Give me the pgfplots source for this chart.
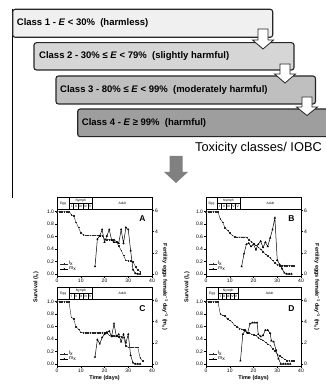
\documentclass[border=0pt]{standalone}
\usepackage{pgfplots}
\pgfplotsset{compat=1.18}
\usepackage{pgfplotstable}
\usepackage{fontspec}
\setmainfont{Liberation Sans}

% ---------------- data ----------------
\pgfplotstableread{
d l
0 1.00
1 1.00
2 1.00
3 1.00
4 1.00
5 1.00
6 0.95
7 0.93
8 0.83
9 0.75
10 0.66
11 0.63
12 0.62
13 0.62
14 0.62
15 0.62
16 0.62
17 0.62
18 0.61
19 0.61
20 0.56
21 0.55
22 0.55
23 0.55
24 0.55
25 0.52
26 0.45
27 0.38
28 0.30
29 0.22
30 0.21
31 0.21
32 0.20
33 0.12
34 0.07
35 0.04
}\lxA
\pgfplotstableread{
d m
16 0.7
17 3.3
18 3.6
19 4.2
20 3.0
21 3.6
22 4.2
23 3.2
24 3.0
25 3.0
26 2.9
27 4.2
28 2.9
29 4.4
30 4.2
31 2.2
32 0.4
33 0.05
34 0
35 0
}\mxA
\pgfplotstableread{
d l
0 1.00
1 1.00
2 1.00
3 1.00
4 1.00
5 1.00
6 0.88
7 0.83
8 0.74
9 0.70
10 0.66
11 0.62
12 0.60
13 0.59
14 0.59
15 0.59
16 0.59
17 0.59
18 0.55
19 0.52
20 0.49
21 0.46
22 0.43
23 0.40
24 0.36
25 0.32
26 0.29
27 0.26
28 0.22
29 0.18
30 0.15
31 0.14
32 0.14
33 0.14
34 0.14
35 0.14
36 0.14
37 0.14
}\lxB
\pgfplotstableread{
d m
15 0.7
16 1.9
17 2.8
18 2.9
19 2.6
20 2.8
21 2.3
22 2.8
23 3.1
24 2.5
25 3.0
26 2.6
27 3.4
28 4.2
29 5.3
30 1.3
31 0.9
32 0.5
33 0.1
34 0
35 0
36 0
}\mxB
\pgfplotstableread{
d l
0 1.00
1 1.00
2 1.00
3 1.00
4 1.00
5 1.00
6 0.75
7 0.72
8 0.60
9 0.56
10 0.51
11 0.50
12 0.50
13 0.50
14 0.50
15 0.50
16 0.50
17 0.50
18 0.50
19 0.50
20 0.50
21 0.50
22 0.46
23 0.45
24 0.45
25 0.45
26 0.44
27 0.44
28 0.43
29 0.29
30 0.27
31 0.27
32 0.27
33 0.27
34 0.27
35 0.10
36 0.05
}\lxC
\pgfplotstableread{
d m
16 0.65
17 2.3
18 1.9
19 2.5
20 2.8
21 3.0
22 3.1
23 2.6
24 3.8
25 2.6
26 2.8
27 2.1
28 2.8
29 2.0
30 2.8
31 0.8
32 0.1
33 0
34 0
35 0
}\mxC
\pgfplotstableread{
d l
0 1.00
1 1.00
2 1.00
3 1.00
4 1.00
5 1.00
6 0.80
7 0.78
8 0.77
9 0.72
10 0.70
11 0.67
12 0.62
13 0.60
14 0.57
15 0.56
16 0.55
17 0.51
18 0.50
19 0.48
20 0.47
21 0.46
22 0.42
23 0.40
24 0.38
25 0.35
26 0.32
27 0.30
28 0.25
29 0.21
30 0.16
31 0.13
32 0.11
33 0.08
34 0.06
35 0.05
36 0.05
37 0.05
}\lxD
\pgfplotstableread{
d m
14.5 0.3
15.5 2.8
16.5 3.2
17.5 2.9
18.5 3.8
19.5 3.9
20.5 3.9
21.5 3.9
22 2.8
23 2.6
24 2.7
25 3.2
26 3.2
27 2.9
27.5 2.2
28.5 2.1
29.5 1.3
30.5 0.5
31.5 0
32.5 0
33.5 0
34.5 0
35.5 0
}\mxD

% ---------------- styles ----------------
\tikzset{stagefont/.style={font=\fontsize{3.3}{3.5}\selectfont, inner sep=0pt}}
\pgfplotsset{
  lx/.style={black!85, line width=0.4pt, mark=square*, mark size=0.35pt, mark options={solid}},
  mx/.style={black, line width=0.5pt, mark=triangle*, mark size=0.8pt, mark options={solid}},
  common/.style={
    scale only axis, width=95pt, height=67pt,
    xmin=0, xmax=40,
    tick align=outside, major tick length=2pt,
    every tick/.style={black, line width=0.4pt},
    axis line style={line width=0.5pt},
    tick label style={font=\fontsize{5}{6}\selectfont, inner sep=0.8pt},
    /pgf/number format/assume math mode=true,
    clip=false,
  },
  leftax/.style={common,
    ymin=-0.03, ymax=1.04,
    xtick={0,10,20,30,40}, ytick={0,0.2,0.4,0.6,0.8,1.0},
    xtick pos=bottom, ytick pos=left,
    yticklabel style={/pgf/number format/.cd, fixed, fixed zerofill, precision=1},
  },
  rightax/.style={common,
    ymin=-0.2, ymax=6.15,
    axis x line=none, axis y line*=right,
    ytick={0,2,4,6},
    legend style={draw=none, fill=none, at={(0.03,0.06)}, anchor=south west,
      font=\fontsize{5}{5.5}\selectfont, inner sep=0pt, row sep=-0.5pt,
      nodes={inner sep=0.6pt}},
    legend cell align=left,
    legend image code/.code={\draw[mark repeat=2,mark phase=2,##1] plot coordinates {(0cm,0cm) (0.14cm,0cm) (0.28cm,0cm)};},
  },
}

\newcommand{\stages}[2]{%
  \draw[line width=0.4pt] (rel axis cs:0,1) rectangle (rel axis cs:1,1.17);
  \draw[line width=0.4pt] (rel axis cs:{#1/40},1) -- (rel axis cs:{#1/40},1.17);
  \draw[line width=0.4pt] (rel axis cs:{#2/40},1) -- (rel axis cs:{#2/40},1.17);
  \draw[line width=0.3pt] (rel axis cs:{#1/40},1.085) -- (rel axis cs:{#2/40},1.085);
  \draw[line width=0.3pt] (rel axis cs:{(#1+0.2*(#2-#1))/40},1) -- (rel axis cs:{(#1+0.2*(#2-#1))/40},1.085);
  \draw[line width=0.3pt] (rel axis cs:{(#1+0.4*(#2-#1))/40},1) -- (rel axis cs:{(#1+0.4*(#2-#1))/40},1.085);
  \draw[line width=0.3pt] (rel axis cs:{(#1+0.6*(#2-#1))/40},1) -- (rel axis cs:{(#1+0.6*(#2-#1))/40},1.085);
  \draw[line width=0.3pt] (rel axis cs:{(#1+0.8*(#2-#1))/40},1) -- (rel axis cs:{(#1+0.8*(#2-#1))/40},1.085);
  \node[stagefont] at (rel axis cs:{#1/80},1.085) {Egg};
  \node[stagefont] at (rel axis cs:{(#1+#2)/80},1.128) {Nymph};
  \node[stagefont] at (rel axis cs:{(#1+0.1*(#2-#1))/40},1.043) {I};
  \node[stagefont] at (rel axis cs:{(#1+0.3*(#2-#1))/40},1.043) {II};
  \node[stagefont] at (rel axis cs:{(#1+0.5*(#2-#1))/40},1.043) {III};
  \node[stagefont] at (rel axis cs:{(#1+0.7*(#2-#1))/40},1.043) {IV};
  \node[stagefont] at (rel axis cs:{(#1+0.9*(#2-#1))/40},1.043) {V};
  \node[stagefont] at (rel axis cs:{(#2+40)/80},1.085) {Adult};
}

\newcommand{\panelletter}[1]{\node[font=\bfseries\fontsize{8.5}{9}\selectfont] at (rel axis cs:0.9,0.86) {#1};}

\begin{document}
\begin{tikzpicture}[x=1pt,y=1pt]
\useasboundingbox (0,0) rectangle (326,385);

% ---------------- top scheme ----------------
\draw[line width=0.8pt] (12,375.5) -- (12,187);
\tikzset{classbox/.style={rounded corners=2.5pt, line width=1.1pt, draw=black!85}}
\draw[classbox, fill=black!6]  (12.7,375.7) rectangle (272.7,347.7);
\draw[classbox, fill=black!16] (34,342.3) rectangle (294,315);
\draw[classbox, fill=black!25] (56,309) rectangle (315.5,281);
\draw[classbox, fill=black!38] (77.7,276) rectangle (345,248.3);
\tikzset{boxtext/.style={anchor=west, inner sep=0pt, font=\bfseries\fontsize{9.5}{10}\selectfont}}
\node[boxtext] at (16.7,362) {Class 1 - \textit{E} < 30\%~ (harmless)};
\node[boxtext] at (39,328.7) {Class 2 - 30\% ≤ \textit{E} < 79\%~ (slightly harmful)};
\node[boxtext] at (60,295) {Class 3 - 80\% ≤ \textit{E} < 99\%~ (moderately harmful)};
\node[boxtext] at (81.7,262.2) {Class 4 - \textit{E} ≥ 99\%~ (harmful)};
% small white arrows
\tikzset{warrow/.style={fill=white, draw=black!85, line width=0.8pt, line join=miter}}
\draw[warrow] (258,356) -- (268,356) -- (268,345) -- (273.5,345) -- (263,336) -- (252.5,345) -- (258,345) -- cycle;
\draw[warrow] (280,321) -- (290,321) -- (290,311) -- (295.5,311) -- (285,302) -- (274.5,311) -- (280,311) -- cycle;
\draw[warrow] (302,288) -- (312,288) -- (312,278) -- (317.5,278) -- (307,269.5) -- (296.5,278) -- (302,278) -- cycle;
\node[anchor=west, inner sep=0pt, font=\fontsize{12.8}{13}\selectfont] at (195,237) {Toxicity classes/ IOBC};
% big grey arrow
\fill[black!50] (169.5,229) -- (182.5,229) -- (182.5,213) -- (188,213) -- (176,202) -- (164,213) -- (169.5,213) -- cycle;

% ---------------- axis labels shared by rows ----------------
\tikzset{axlab/.style={inner sep=0pt, font=\bfseries\fontsize{5.5}{6}\selectfont}}
\node[axlab, rotate=90] at (36,98) {Survival (l\textsubscript{x})};
\node[axlab, rotate=-90] at (165,98) {Fertility eggs female\textsuperscript{−1} day\textsuperscript{−1} (m\textsubscript{x})};
\node[axlab, rotate=90] at (187,98) {Survival (l\textsubscript{x})};
\node[axlab, rotate=-90] at (317,98) {Fertility eggs female\textsuperscript{−1} day\textsuperscript{−1} (m\textsubscript{x})};

% ---------------- panel A ----------------
\begin{axis}[leftax, at={(57pt,109pt)}, anchor=south west]
\addplot[lx] table[x=d, y=l] {\lxA};
\stages{5}{15}
\panelletter{A}
\end{axis}
\begin{axis}[rightax, at={(57pt,109pt)}, anchor=south west]
\addlegendimage{lx}\addlegendentry{l\textsubscript{x}}
\addplot[mx] table[x=d, y=m] {\mxA};
\addlegendentry{m\textsubscript{x}}
\end{axis}

% ---------------- panel B ----------------
\begin{axis}[leftax, at={(206pt,109pt)}, anchor=south west]
\addplot[lx] table[x=d, y=l] {\lxB};
\stages{4.6}{14.3}
\panelletter{B}
\end{axis}
\begin{axis}[rightax, at={(206pt,109pt)}, anchor=south west]
\addlegendimage{lx}\addlegendentry{l\textsubscript{x}}
\addplot[mx] table[x=d, y=m] {\mxB};
\addlegendentry{m\textsubscript{x}}
\end{axis}

% ---------------- panel C ----------------
\begin{axis}[leftax, at={(57pt,19pt)}, anchor=south west,
  xlabel={Time (days)}, xlabel style={font=\bfseries\fontsize{5.5}{6}\selectfont, at={(0.5,0)}, anchor=north, inner sep=0pt, yshift=-9.5pt}]
\addplot[lx] table[x=d, y=l] {\lxC};
\stages{5.2}{15}
\panelletter{C}
\end{axis}
\begin{axis}[rightax, at={(57pt,19pt)}, anchor=south west]
\addlegendimage{lx}\addlegendentry{l\textsubscript{x}}
\addplot[mx] table[x=d, y=m] {\mxC};
\addlegendentry{m\textsubscript{x}}
\end{axis}

% ---------------- panel D ----------------
\begin{axis}[leftax, at={(206pt,19pt)}, anchor=south west,
  xlabel={Time (days)}, xlabel style={font=\bfseries\fontsize{5.5}{6}\selectfont, at={(0.5,0)}, anchor=north, inner sep=0pt, yshift=-9.5pt}]
\addplot[lx] table[x=d, y=l] {\lxD};
\stages{5.2}{13.5}
\panelletter{D}
\end{axis}
\begin{axis}[rightax, at={(206pt,19pt)}, anchor=south west]
\addlegendimage{lx}\addlegendentry{l\textsubscript{x}}
\addplot[mx] table[x=d, y=m] {\mxD};
\addlegendentry{m\textsubscript{x}}
\end{axis}
\end{tikzpicture}
\end{document}
